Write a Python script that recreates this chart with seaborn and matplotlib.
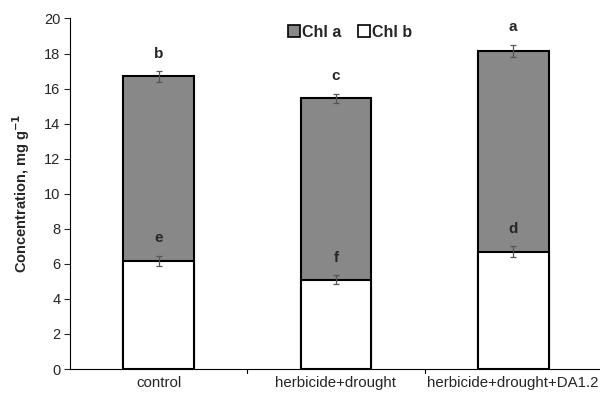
import numpy as np
import pandas as pd
import matplotlib
matplotlib.use("Agg")
import matplotlib.pyplot as plt
import seaborn as sns
from matplotlib.lines import Line2D

categories = ["control", "herbicide+drought", "herbicide+drought+DA1.2"]
chl_b = [6.15, 5.1, 6.7]
chl_a = [10.55, 10.35, 11.45]
err_total = [0.3, 0.25, 0.35]
err_b = [0.3, 0.25, 0.3]
letters_total = ["b", "c", "a"]
letters_b = ["e", "f", "d"]

totals = [a + b for a, b in zip(chl_a, chl_b)]
df = pd.DataFrame({"cat": categories, "total": totals, "chl_b": chl_b})

sns.set_style("white")
plt.rcParams["font.family"] = ["Liberation Sans", "DejaVu Sans"]

fig = plt.figure(figsize=(6.0, 3.93), dpi=100)
ax = fig.add_axes([0.117, 0.061, 0.886, 0.892])

grey = "#888888"
sns.barplot(data=df, x="cat", y="total", color=grey, edgecolor="black",
            linewidth=1.5, width=0.4, saturation=1, ax=ax, errorbar=None)
sns.barplot(data=df, x="cat", y="chl_b", color="white", edgecolor="black",
            linewidth=1.5, width=0.4, saturation=1, ax=ax, errorbar=None)

x = np.arange(len(categories))
ax.errorbar(x, totals, yerr=err_total, fmt="none", ecolor="#555555",
            elinewidth=0.9, capsize=2.5, capthick=0.9, zorder=5)
ax.errorbar(x, chl_b, yerr=err_b, fmt="none", ecolor="#555555",
            elinewidth=0.9, capsize=2.5, capthick=0.9, zorder=5)

for xi, t, e, l in zip(x, totals, err_total, letters_total):
    ax.text(xi, t + e + 1.0, l, ha="center", va="center", fontsize=11,
            fontweight="bold")
for xi, t, e, l in zip(x, chl_b, err_b, letters_b):
    ax.text(xi, t + e + 1.0, l, ha="center", va="center", fontsize=11,
            fontweight="bold")

ax.set_xlim(-0.5, 2.5)
ax.set_ylim(0, 20)
ax.set_yticks(np.arange(0, 21, 2))
ax.tick_params(axis="y", labelsize=10.5, length=4, width=0.8, direction="out",
               left=True, pad=3)
ax.set_xticks(x)
ax.set_xticklabels(categories, fontsize=10.8)
ax.tick_params(axis="x", length=0, pad=5)
for b in [0.5, 1.5]:
    ax.plot([b, b], [0, -0.25], color="black", lw=0.8, clip_on=False,
            transform=ax.transData)

ax.set_xlabel("")
ax.set_ylabel("Concentration, mg g$^{\\mathbf{-1}}$", fontsize=10.5,
              fontweight="bold", labelpad=9)
for s in ["top", "right"]:
    ax.spines[s].set_visible(False)
for s in ["left", "bottom"]:
    ax.spines[s].set_color("black")
    ax.spines[s].set_linewidth(0.8)

handles = [Line2D([], [], marker="s", linestyle="none", markersize=8,
                  markerfacecolor=grey, markeredgecolor="black", markeredgewidth=1.2),
           Line2D([], [], marker="s", linestyle="none", markersize=8,
                  markerfacecolor="white", markeredgecolor="black", markeredgewidth=1.2)]
ax.legend(handles, ["Chl a", "Chl b"], loc="center", bbox_to_anchor=(0.52, 0.96),
          ncol=2, frameon=False, handletextpad=-0.3, columnspacing=0.6,
          handlelength=1.6, prop={"weight": "bold", "size": 11.5})

fig.savefig("out.png", dpi=100)
